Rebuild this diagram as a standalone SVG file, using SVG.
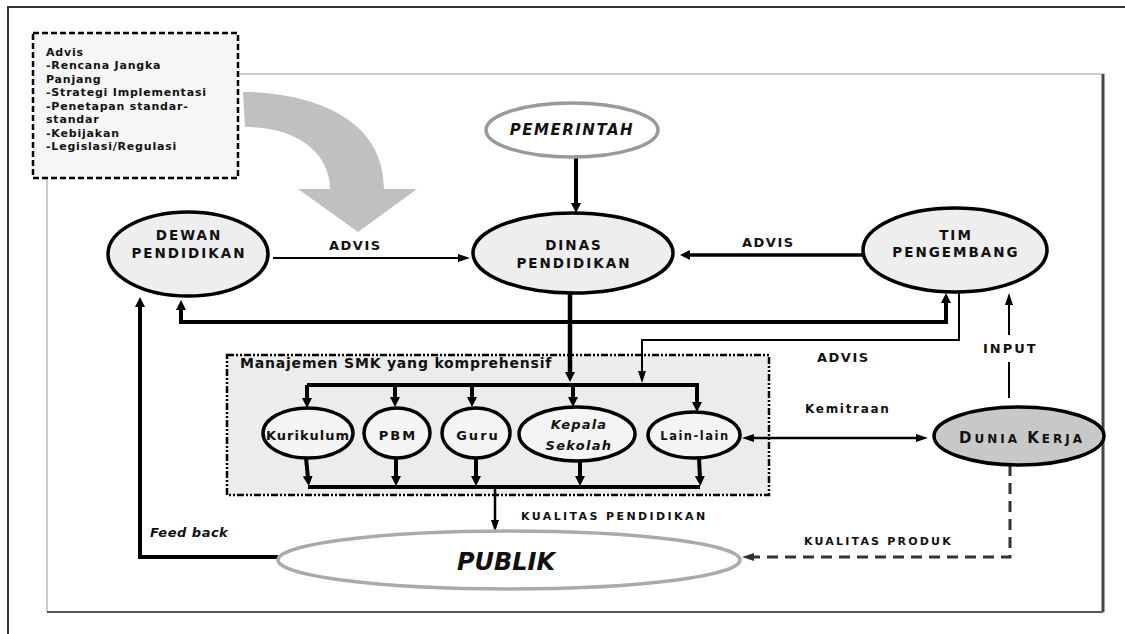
<svg xmlns="http://www.w3.org/2000/svg" width="1125" height="634" viewBox="0 0 1125 634">
<style>
text{font-family:"DejaVu Sans","Liberation Sans",sans-serif;font-weight:bold;fill:#111}
.nl{font-size:13.5px;letter-spacing:2px;text-anchor:middle}
.lb{font-size:13px;letter-spacing:1.5px}
.sm{font-size:11px;letter-spacing:2.4px}
.adv{font-size:11px;letter-spacing:0.8px}
.node{fill:#eeeeee;stroke:#000;stroke-width:3.5}
.sub{fill:#f4f4f4;stroke:#000;stroke-width:3.5}
.k{fill:none;stroke:#000;stroke-linejoin:miter}
</style>
<defs>
<marker id="aL" viewBox="0 0 10 10" refX="2" refY="5" markerWidth="10" markerHeight="10" markerUnits="userSpaceOnUse" orient="auto-start-reverse"><path d="M0,0 L10,5 L0,10 Z" fill="#000"/></marker>
<marker id="aS" viewBox="0 0 12 8" refX="3" refY="4" markerWidth="12" markerHeight="8" markerUnits="userSpaceOnUse" orient="auto-start-reverse"><path d="M0,0 L12,4 L0,8 Z" fill="#000"/></marker>
<marker id="aD" viewBox="0 0 12 8" refX="3" refY="4" markerWidth="12" markerHeight="8" markerUnits="userSpaceOnUse" orient="auto"><path d="M0,0 L12,4 L0,8 Z" fill="#333"/></marker>
</defs>
<rect width="1125" height="634" fill="#fff"/>
<!-- frames -->
<g id="frames" fill="none">
<path d="M8,634 L8,7 L1125,7" stroke="#333" stroke-width="2"/>
<path d="M47,178 L47,612" stroke="#bbb" stroke-width="1.5"/>
<path d="M237,74 L1103,74" stroke="#ccc" stroke-width="2"/>
<path d="M1103,74 L1103,612" stroke="#444" stroke-width="3"/>
<path d="M47,612 L1103,612" stroke="#555" stroke-width="2"/>
</g>
<!-- big gray arrow -->
<path id="bigArrow" d="M243,92 C300,92 384,112 384,189 L417,189 L358,232 L298,189 L330,189 C330,155 300,127 245,127 Z" fill="#c0c0c0"/>
<g id="advisBox">
<rect x="33" y="33" width="205" height="145" fill="#f6f6f6" stroke="#000" stroke-width="2.5" stroke-dasharray="6 3"/>
<text class="adv" x="46" y="56">Advis</text>
<text class="adv" x="46" y="69">-Rencana Jangka</text>
<text class="adv" x="46" y="82.5">Panjang</text>
<text class="adv" x="46" y="96">-Strategi Implementasi</text>
<text class="adv" x="46" y="109.5">-Penetapan standar-</text>
<text class="adv" x="46" y="123">standar</text>
<text class="adv" x="46" y="136.5">-Kebijakan</text>
<text class="adv" x="46" y="150">-Legislasi/Regulasi</text>
</g>
<g id="smkBox">
<rect x="227" y="355" width="542" height="140" fill="#ececec" stroke="#000" stroke-width="2.5" stroke-dasharray="7 2 2 2 2 2"/>
<text x="240" y="368" style="font-size:14px;letter-spacing:0.8px">Manajemen SMK yang komprehensif</text>
</g>
<!-- connectors -->
<g id="connectors">
<path class="k" d="M576,157 L576,205" stroke-width="4" marker-end="url(#aL)"/>
<path class="k" d="M273,258 L461,258" stroke-width="2" marker-end="url(#aS)"/>
<path class="k" d="M863,255 L688,255" stroke-width="3.5" marker-end="url(#aL)"/>
<path class="k" d="M181,308 L181,322 L946,322 L946,301" stroke-width="4" marker-start="url(#aL)" marker-end="url(#aL)"/>
<path class="k" d="M570,293 L570,374" stroke-width="4.5" marker-end="url(#aL)"/>
<path class="k" d="M959,291 L959,340 L642,340 L642,374" stroke-width="2" marker-end="url(#aS)"/>
<path class="k" d="M307,385 L699,385" stroke-width="4"/>
<path class="k" d="M307,385 L307,400 M395,385 L395,399 M472,385 L472,399 M573,385 L573,399 M697,385 L697,404" stroke-width="4"/>
<path class="k" d="M307,387 L307,400" stroke-width="4" marker-end="url(#aL)"/>
<path class="k" d="M395,387 L395,399" stroke-width="4" marker-end="url(#aL)"/>
<path class="k" d="M472,387 L472,399" stroke-width="4" marker-end="url(#aL)"/>
<path class="k" d="M573,387 L573,399" stroke-width="4" marker-end="url(#aL)"/>
<path class="k" d="M697,387 L697,404" stroke-width="4" marker-end="url(#aL)"/>
<path class="k" d="M306,458 L308,478" stroke-width="4" marker-end="url(#aL)"/>
<path class="k" d="M396,458 L396,478" stroke-width="4" marker-end="url(#aL)"/>
<path class="k" d="M476,458 L476,478" stroke-width="4" marker-end="url(#aL)"/>
<path class="k" d="M580,461 L580,478" stroke-width="4" marker-end="url(#aL)"/>
<path class="k" d="M699,458 L700,478" stroke-width="4" marker-end="url(#aL)"/>
<path class="k" d="M308,487 L700,487" stroke-width="4"/>
<path class="k" d="M495,487 L495,523" stroke-width="2.5" marker-end="url(#aS)"/>
<path class="k" d="M278,557 L140,557 L140,305" stroke-width="4" marker-end="url(#aL)"/>
<path class="k" d="M751,438 L919,438" stroke-width="2.5" marker-start="url(#aS)" marker-end="url(#aS)"/>
<path class="k" d="M1009,398 L1009,362" stroke-width="2"/>
<path class="k" d="M1009,335 L1009,302" stroke-width="2" marker-end="url(#aS)"/>
<path d="M1010,465 L1010,557 L751,557" fill="none" stroke="#333" stroke-width="3" stroke-dasharray="11 7" marker-end="url(#aD)"/>
</g>
<!-- connector labels -->
<g id="labels">
<text class="lb" x="329" y="250">ADVIS</text>
<text class="lb" x="742" y="247">ADVIS</text>
<text class="lb" x="817" y="362">ADVIS</text>
<text class="lb" x="983" y="353" style="letter-spacing:2px">INPUT</text>
<text x="805" y="413" style="font-size:12px;letter-spacing:1.7px">Kemitraan</text>
<text class="sm" x="521" y="520">KUALITAS PENDIDIKAN</text>
<text class="sm" x="804" y="545" style="letter-spacing:2.2px">KUALITAS PRODUK</text>
<text x="150" y="537" style="font-size:13px;font-style:italic;letter-spacing:0.5px">Feed back</text>
</g>
<!-- nodes -->
<g id="pemerintah">
<ellipse cx="572" cy="130" rx="86" ry="27" fill="#fff" stroke="#999" stroke-width="3.5"/>
<text x="572" y="135" style="font-size:15px;font-style:italic;letter-spacing:1.5px;text-anchor:middle">PEMERINTAH</text>
</g>
<g id="dinas">
<ellipse class="node" cx="573" cy="253" rx="100" ry="40"/>
<text class="nl" x="574" y="250">DINAS</text>
<text class="nl" x="574" y="268">PENDIDIKAN</text>
</g>
<g id="dewan">
<ellipse class="node" cx="188" cy="254" rx="80" ry="42"/>
<text class="nl" x="189" y="240">DEWAN</text>
<text class="nl" x="189" y="258">PENDIDIKAN</text>
</g>
<g id="tim">
<ellipse class="node" cx="955" cy="250" rx="92" ry="42"/>
<text class="nl" x="956" y="240">TIM</text>
<text class="nl" x="956" y="257">PENGEMBANG</text>
</g>
<g id="kurikulum">
<ellipse class="sub" cx="308" cy="433" rx="45" ry="25"/>
<text x="308" y="440" style="font-size:13px;letter-spacing:1px;text-anchor:middle">Kurikulum</text>
</g>
<g id="pbm">
<ellipse class="sub" cx="397" cy="433" rx="33" ry="25"/>
<text x="398" y="440" style="font-size:13px;letter-spacing:2px;text-anchor:middle">PBM</text>
</g>
<g id="guru">
<ellipse class="sub" cx="476" cy="433" rx="34" ry="25"/>
<text x="478" y="440" style="font-size:13px;letter-spacing:2px;text-anchor:middle">Guru</text>
</g>
<g id="kepala">
<ellipse class="sub" cx="577" cy="434" rx="58" ry="27"/>
<text x="579" y="429" style="font-size:13px;font-style:italic;letter-spacing:1.2px;text-anchor:middle">Kepala</text>
<text x="579" y="450" style="font-size:13px;font-style:italic;letter-spacing:1.3px;text-anchor:middle">Sekolah</text>
</g>
<g id="lain">
<ellipse class="sub" cx="694" cy="435" rx="46" ry="23"/>
<text x="695" y="440" style="font-size:11.5px;letter-spacing:1.5px;text-anchor:middle">Lain-lain</text>
</g>
<g id="dunia">
<ellipse cx="1019" cy="436" rx="85" ry="29" fill="#c8c8c8" stroke="#000" stroke-width="3.5"/>
<text x="1022" y="443" style="font-size:12px;letter-spacing:3px;text-anchor:middle"><tspan style="font-size:15px">D</tspan>UNIA <tspan style="font-size:15px">K</tspan>ERJA</text>
</g>
<g id="publik">
<ellipse cx="509" cy="560" rx="231" ry="29" fill="#fff" stroke="#aaa" stroke-width="3.5"/>
<text x="506" y="570" style="font-size:24px;font-style:italic;text-anchor:middle">PUBLIK</text>
</g>
</svg>
